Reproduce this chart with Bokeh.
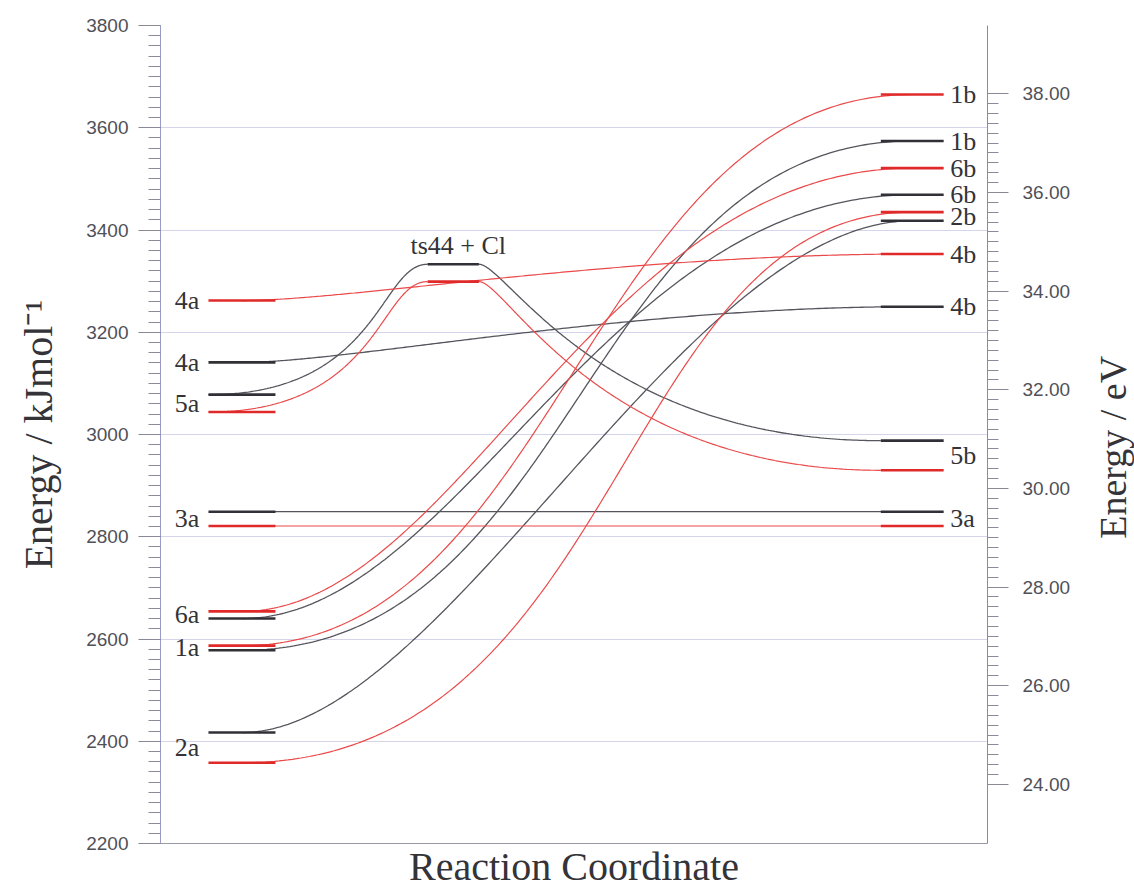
import math
import numpy as np
from bokeh.plotting import figure
from bokeh.layouts import row
from bokeh.models import (Range1d, LinearAxis, FixedTicker, NumeralTickFormatter,
                          ColumnDataSource)
from bokeh.core.properties import value
from bokeh.embed import file_html
from bokeh.resources import INLINE

KJ_PER_EV = 96.485

# ---------------- data (kJ/mol) ----------------
left_states = ["4a", "5a", "3a", "6a", "1a", "2a"]
black_left = [3141, 3078, 2849, 2640, 2578, 2417]
red_left = [3262, 3044, 2821, 2654, 2587, 2358]

right_states = ["4b", "5b", "3a", "6b", "1b", "2b"]
black_right = [3250, 2988, 2849, 3469, 3574, 3418]
red_right = [3353, 2930, 2821, 3521, 3665, 3435]

via_ts = [False, True, False, False, False, False]
ts_label = "ts44 + Cl"
black_ts = 3333
red_ts = 3299

split_left = ["4a"]               # states labelled once per series
split_right = ["4b", "6b", "1b"]

kj_ticks = [2200, 2400, 2600, 2800, 3000, 3200, 3400, 3600, 3800]
ev_ticks = [24, 26, 28, 30, 32, 34, 36, 38]

# ---------------- layout / style ----------------
XL0, XL1 = 0.058, 0.139     # left level bars
XT0, XT1 = 0.323, 0.385     # transition state bars
XR0, XR1 = 0.871, 0.947     # right level bars
XLC, XRC = (XL0 + XL1) / 2, (XR0 + XR1) / 2
# curve handle lengths (fraction of span): (start, end) per state and series
HANDLES = {("4a", "black"): (0.16, 0.43), ("4a", "red"): (0.16, 0.43),
           ("3a", "black"): (0.3, 0.3), ("3a", "red"): (0.3, 0.3),
           ("6a", "black"): (0.32, 0.46), ("6a", "red"): (0.32, 0.47),
           ("1a", "black"): (0.50, 0.49), ("1a", "red"): (0.47, 0.48),
           ("2a", "black"): (0.30, 0.34), ("2a", "red"): (0.57, 0.44)}
BLACK_C, BLACK_B = "#55555d", "#303036"
RED_C, RED_B = "#ea4a4a", "#e02a2a"
SERIF = "Liberation Serif"
SANS = "Liberation Sans"
TITLE_STRIP = 44            # width of the strip holding the eV axis title
TITLE_Y = 2975              # vertical centre of the eV axis title (kJ/mol scale)

kj_minor = list(range(2200, 3801, 20))
ev_minor = [round(24 + 0.2 * i, 1) for i in range(71)]


def bez(x0, y0, x1, y1, h0, h1, n=240):
    s = x1 - x0
    u = np.linspace(0, 1, n)
    px = [x0, x0 + h0 * s, x1 - h1 * s, x1]
    py = [y0, y0, y1, y1]
    b = [(1 - u) ** 3, 3 * (1 - u) ** 2 * u, 3 * (1 - u) * u ** 2, u ** 3]
    return (list(sum(bi * p for bi, p in zip(b, px))),
            list(sum(bi * p for bi, p in zip(b, py))))


p = figure(width=1134 - TITLE_STRIP, height=891, output_backend="svg",
           toolbar_location=None,
           x_range=Range1d(0, 1), y_range=Range1d(2200, 3800),
           min_border_left=160, min_border_right=1134 - TITLE_STRIP - 987,
           min_border_top=25, min_border_bottom=48,
           background_fill_color="white", border_fill_color="white")
p.outline_line_color = None
p.xgrid.visible = False

# left axis
ya = p.yaxis[0]
ya.ticker = FixedTicker(ticks=kj_ticks, minor_ticks=kj_minor)
ya.axis_line_color = "#9a9ac8"
ya.major_tick_line_color = "#888890"
ya.minor_tick_line_color = "#8a8a98"
ya.major_tick_in = 0
ya.major_tick_out = 22
ya.minor_tick_in = 0
ya.minor_tick_out = 12
ya.major_label_text_font = SANS
ya.major_label_text_font_size = "19px"
ya.major_label_text_color = "#505058"
ya.major_label_standoff = 10
ya.axis_label = "Energy / kJmol\u207b\u00b9"
ya.axis_label_text_font = SERIF
ya.axis_label_text_font_style = "normal"
ya.axis_label_text_font_size = "40px"
ya.axis_label_text_color = "#333338"
ya.axis_label_standoff = 22

p.ygrid.grid_line_color = "#d4d4ea"
p.ygrid.grid_line_width = 1

# bottom axis
xa = p.xaxis[0]
xa.ticker = FixedTicker(ticks=[])
xa.axis_line_color = "#9a9aa6"
xa.major_tick_out = 0
xa.minor_tick_out = 0
xa.major_label_standoff = 0
xa.axis_label = "Reaction Coordinate"
xa.axis_label_text_font = SERIF
xa.axis_label_text_font_style = "normal"
xa.axis_label_text_font_size = "40px"
xa.axis_label_text_color = "#333338"
xa.axis_label_standoff = 0

# right axis (eV)
p.extra_y_ranges = {"ev": Range1d(2200 / KJ_PER_EV, 3800 / KJ_PER_EV)}
ra = LinearAxis(y_range_name="ev",
                ticker=FixedTicker(ticks=ev_ticks, minor_ticks=ev_minor),
                formatter=NumeralTickFormatter(format="0.00"))
ra.axis_line_color = "#8a8a9a"
ra.major_tick_line_color = "#888890"
ra.minor_tick_line_color = "#8a8a98"
ra.major_tick_in = 0
ra.major_tick_out = 21
ra.minor_tick_in = 0
ra.minor_tick_out = 11
ra.major_label_text_font = SANS
ra.major_label_text_font_size = "19px"
ra.major_label_text_color = "#505058"
ra.major_label_standoff = 14
p.add_layout(ra, "right")

# ---------------- curves ----------------
curves = {"black": ([], []), "red": ([], [])}
for i, st in enumerate(left_states):
    for key, lv, rv, tv in (("black", black_left[i], black_right[i], black_ts),
                            ("red", red_left[i], red_right[i], red_ts)):
        xs, ys = curves[key]
        if via_ts[i]:
            x1, y1 = bez(XL0, lv, XT0, tv, 0.78, 0.22)
            x2, y2 = bez(XT1, tv, XR0, rv, 0.07, 0.70)
            xs += [x1, x2]
            ys += [y1, y2]
        else:
            h0, h1 = HANDLES[(st, key)]
            x1, y1 = bez(XLC, lv, XRC, rv, h0, h1)
            xs.append(x1)
            ys.append(y1)

p.multi_line(curves["black"][0], curves["black"][1], line_color=BLACK_C, line_width=1.3)
p.multi_line(curves["red"][0], curves["red"][1], line_color=RED_C, line_width=1.2)

# ---------------- level bars ----------------
def bars(levels, x0, x1, color):
    src = ColumnDataSource(dict(x0=[x0] * len(levels), x1=[x1] * len(levels), y=levels))
    p.segment("x0", "y", "x1", "y", source=src, line_color=color, line_width=2.6)

bars(black_left, XL0, XL1, BLACK_B)
bars(red_left, XL0, XL1, RED_B)
bars(black_right, XR0, XR1, BLACK_B)
bars(red_right, XR0, XR1, RED_B)
bars([black_ts], XT0, XT1, BLACK_B)
bars([red_ts], XT0, XT1, RED_B)

# ---------------- labels ----------------
def label_rows(states, blk, red, split):
    txt, yy = [], []
    for s, b, r in zip(states, blk, red):
        if s in split:
            txt += [s, s]
            yy += [b, r]
        else:
            txt.append(s)
            yy.append((b + r) / 2)
    return txt, yy

lt, ly = label_rows(left_states, black_left, red_left, split_left)
rt, ry = label_rows(right_states, black_right, red_right, split_right)

p.text(x=[0.047] * len(lt), y=ly, text=lt, text_font=value(SERIF),
       text_font_size=value("26px"), text_color="#333338",
       text_align="right", text_baseline="middle")
p.text(x=[0.955] * len(rt), y=ry, text=rt, text_font=value(SERIF),
       text_font_size=value("26px"), text_color="#333338",
       text_align="left", text_baseline="middle")
p.text(x=[(XT0 + XT1) / 2], y=[black_ts], text=[ts_label], text_font=value(SERIF),
       text_font_size=value("26px"), text_color="#333338",
       text_align="center", text_baseline="bottom", x_offset=5, y_offset=-4)

# ---------------- eV axis title (reads bottom-to-top) ----------------
t = figure(width=TITLE_STRIP, height=891, output_backend="svg", toolbar_location=None,
           x_range=Range1d(0, 1), y_range=p.y_range,
           x_axis_location=None, y_axis_location=None,
           min_border_left=0, min_border_right=0, min_border_top=25,
           min_border_bottom=48, background_fill_color="white",
           border_fill_color="white")
t.outline_line_color = None
t.grid.visible = False
t.text(x=[0.5], y=[TITLE_Y], text=["Energy / eV"], angle=math.pi / 2,
       text_font=value(SERIF), text_font_size=value("38px"), text_color="#333338",
       text_align="center", text_baseline="middle")

open("out.html", "w").write(file_html(row(p, t), INLINE))
